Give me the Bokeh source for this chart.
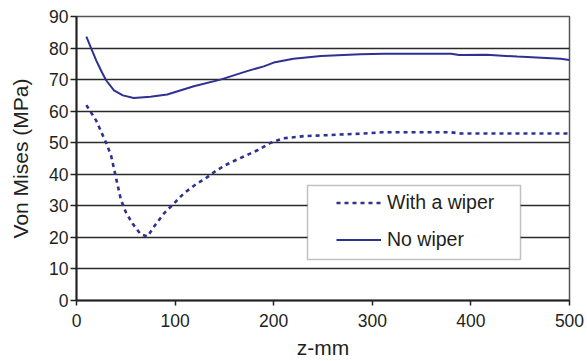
from bokeh.plotting import figure
from bokeh.models import Legend, LegendItem, BoxAnnotation, FixedTicker, Range1d
from bokeh.embed import file_html
from bokeh.resources import INLINE

# ---- data ----
z_no_wiper = [10, 15, 20, 25, 30, 38, 47, 58, 75, 92, 119, 146, 173, 190, 200, 220, 248, 288, 312, 380, 388, 416, 447, 491, 500]
no_wiper = [83.6, 79.8, 76.1, 72.8, 69.8, 66.6, 65.0, 64.2, 64.6, 65.3, 67.9, 70.0, 72.7, 74.2, 75.4, 76.6, 77.5, 78.0, 78.2, 78.2, 77.8, 77.9, 77.3, 76.6, 76.2]

z_with_wiper = [10, 20, 30, 35, 40, 45, 50, 57, 65, 72, 80, 89, 99, 109, 121, 131, 141, 151, 163, 173, 184, 197, 210, 231, 254, 275, 290, 310, 380, 390, 500]
with_wiper = [61.9, 57.0, 50.0, 46.0, 39.0, 32.0, 28.0, 24.3, 21.0, 20.3, 24.0, 27.7, 30.8, 34.0, 36.8, 38.7, 41.0, 42.9, 44.7, 46.1, 47.7, 50.0, 51.4, 52.1, 52.4, 52.7, 52.9, 53.3, 53.3, 52.9, 52.9]

x_ticks = [0, 100, 200, 300, 400, 500]
y_ticks = [0, 10, 20, 30, 40, 50, 60, 70, 80, 90]
x_label = "z-mm"
y_label = "Von Mises (MPa)"
series_labels = ["With a wiper", "No wiper"]

FONT = "Liberation Sans"
BLUE = "#2e3192"
TEXT = "#231f20"

p = figure(width=587, height=361, output_backend="svg", toolbar_location=None,
           x_range=Range1d(0, 500), y_range=Range1d(0, 90),
           min_border_left=76, min_border_right=18, min_border_top=16, min_border_bottom=60)
p.background_fill_color = "white"
p.border_fill_color = "white"
p.outline_line_color = "#555555"
p.outline_line_width = 1.5

p.xgrid.grid_line_color = None
p.ygrid.grid_line_color = "#2a2a2a"
p.ygrid.grid_line_width = 1.5

p.xaxis.ticker = FixedTicker(ticks=x_ticks)
p.yaxis.ticker = FixedTicker(ticks=y_ticks)
for ax in (p.xaxis[0], p.yaxis[0]):
    ax.axis_line_color = "#222222"
    ax.axis_line_width = 2
    ax.major_tick_line_color = "#222222"
    ax.major_tick_line_width = 1.5
    ax.major_tick_in = 0
    ax.minor_tick_line_color = None
    ax.major_label_text_font = FONT
    ax.major_label_text_font_size = "17.5px"
    ax.major_label_text_color = TEXT
    ax.axis_label_text_font = FONT
    ax.axis_label_text_font_size = "21px"
    ax.axis_label_text_font_style = "normal"
    ax.axis_label_text_color = TEXT

p.xaxis.major_tick_out = 5
p.yaxis.major_tick_out = 6
p.xaxis.major_label_standoff = 8
p.yaxis.major_label_standoff = 2
p.xaxis.axis_label = x_label
p.yaxis.axis_label = y_label
p.xaxis.axis_label_standoff = 6
p.yaxis.axis_label_standoff = 14

r_with = p.line(z_with_wiper, with_wiper, line_color=BLUE, line_width=2.6, line_dash="4 4")
r_no = p.line(z_no_wiper, no_wiper, line_color=BLUE, line_width=2)

box = BoxAnnotation(left=307, right=520, top=185, bottom=259,
                    left_units="canvas", right_units="canvas", top_units="canvas", bottom_units="canvas",
                    fill_color="white", fill_alpha=1.0, line_color="#333333", line_width=1.5)
p.add_layout(box)

legend = Legend(items=[LegendItem(label=series_labels[0], renderers=[r_with]),
                       LegendItem(label=series_labels[1], renderers=[r_no])],
                location=(260, 46), orientation="vertical")
legend.background_fill_alpha = 0
legend.border_line_alpha = 0
legend.padding = 0
legend.margin = 0
legend.spacing = 8
legend.label_height = 29
legend.glyph_height = 29
legend.glyph_width = 45
legend.label_standoff = 6
legend.label_text_font = FONT
legend.label_text_font_size = "19.5px"
legend.label_text_color = TEXT
p.add_layout(legend)

open("out.html", "w").write(file_html(p, INLINE))
